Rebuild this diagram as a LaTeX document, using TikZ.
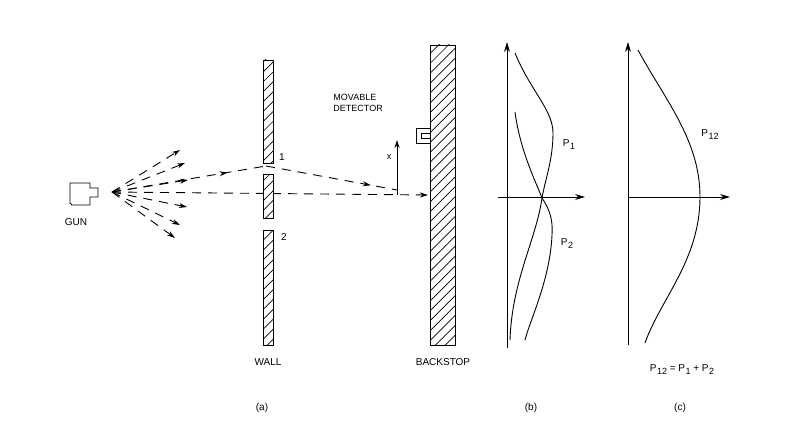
\documentclass[tikz,border=0pt]{standalone}
\usepackage{fontspec}
\setmainfont{Liberation Sans}
\usetikzlibrary{patterns.meta,arrows.meta,decorations.markings}
\newcommand{\Psub}[1]{P\kern0.5pt\raisebox{-3pt}{\small #1}}
\begin{document}
\begin{tikzpicture}[x=1pt,y=-1pt,line width=0.9pt,
  lbl/.style={font=\normalsize},
  hatch/.style={draw,fill=white,postaction={pattern={Lines[angle=45,distance=7pt,line width=0.7pt]}}},
  dsh/.style={dash pattern=on 9pt off 7pt},
  shot/.style={dsh,-{Stealth[length=8pt,width=5pt]}},
  mid/.style={dsh,postaction={decorate},decoration={markings,mark=at position #1 with {\arrow{Stealth[length=8pt,width=5pt]}}}}]
\useasboundingbox (0,0) rectangle (800,444);
% gun
\draw (70,183) -- (90,183) -- (90,188) -- (98,188) -- (98,197) -- (90,197) -- (90,205) -- (72,205) -- (70,203) -- cycle;
\node[lbl] (gun) at (76,222) {GUN};
\coordinate (o) at (112,192);
\foreach \p in {(180,150),(185,163),(188,180),(187,207),(180,225),(175,238)} \draw[shot] (o) -- \p;
% paths
\draw[dsh,-{Stealth[length=8pt,width=5pt]}] (o) -- (428,195);
\coordinate (c1) at (266,166);
\draw[mid=0.75] (o) -- (c1);
\draw[mid=0.8] (c1) -- (397,190);
\draw[-{Stealth[length=8pt,width=5pt]}] (397,195) -- (397,140);
\node[lbl,font=\small] (x) at (389,157) {x};
% wall
\draw[hatch] (263,60) rectangle (273,163);
\draw[hatch] (263,174) rectangle (273,218);
\draw[hatch] (263,230) rectangle (273,345);
\node[lbl] (wall) at (268,362) {WALL};
\node[lbl] (s1) at (282,157) {1};
\node[lbl] (s2) at (284,237) {2};
% backstop
\draw[hatch] (430,45) rectangle (455,345);
\node[lbl] (bs) at (443,362) {BACKSTOP};
\draw (430,128) -- (416,128) -- (416,143) -- (430,143);
\draw (430,133) -- (421,133) -- (421,138) -- (430,138);
\node[lbl,align=left,anchor=west,font=\small,inner sep=0] (det) at (333,103) {MOVABLE\\DETECTOR};
% (b)
\draw[-{Stealth[length=10pt,width=6pt]}] (507,348) -- (507,42);
\draw[-{Stealth[length=10pt,width=6pt]}] (498,197) -- (585,197);
\draw (515,53) .. controls (530,90) and (553,110) .. (553,133) .. controls (553,160) and (545,180) .. (542,198) .. controls (536,240) and (512,280) .. (510,340);
\draw (515,112) .. controls (520,150) and (535,180) .. (542,198) .. controls (550,210) and (553,220) .. (552,235) .. controls (550,280) and (530,320) .. (525,340);
\node[lbl] (p1) at (569,145) {\Psub{1}};
\node[lbl] (p2) at (567,244) {\Psub{2}};
% (c)
\draw[-{Stealth[length=10pt,width=6pt]}] (628,345) -- (628,42);
\draw[-{Stealth[length=10pt,width=6pt]}] (628,197) -- (730,197);
\draw (638,50) .. controls (665,100) and (700,140) .. (700,197) .. controls (700,260) and (660,300) .. (645,343);
\node[lbl] (p12) at (710,135) {\Psub{12}};
\node[lbl] (eq) at (682,370) {\Psub{12} = \Psub{1} + \Psub{2}};
% captions
\node[lbl] (a) at (262,408) {(a)};
\node[lbl] (b) at (531,408) {(b)};
\node[lbl] (c) at (680,408) {(c)};
\end{tikzpicture}
\end{document}
